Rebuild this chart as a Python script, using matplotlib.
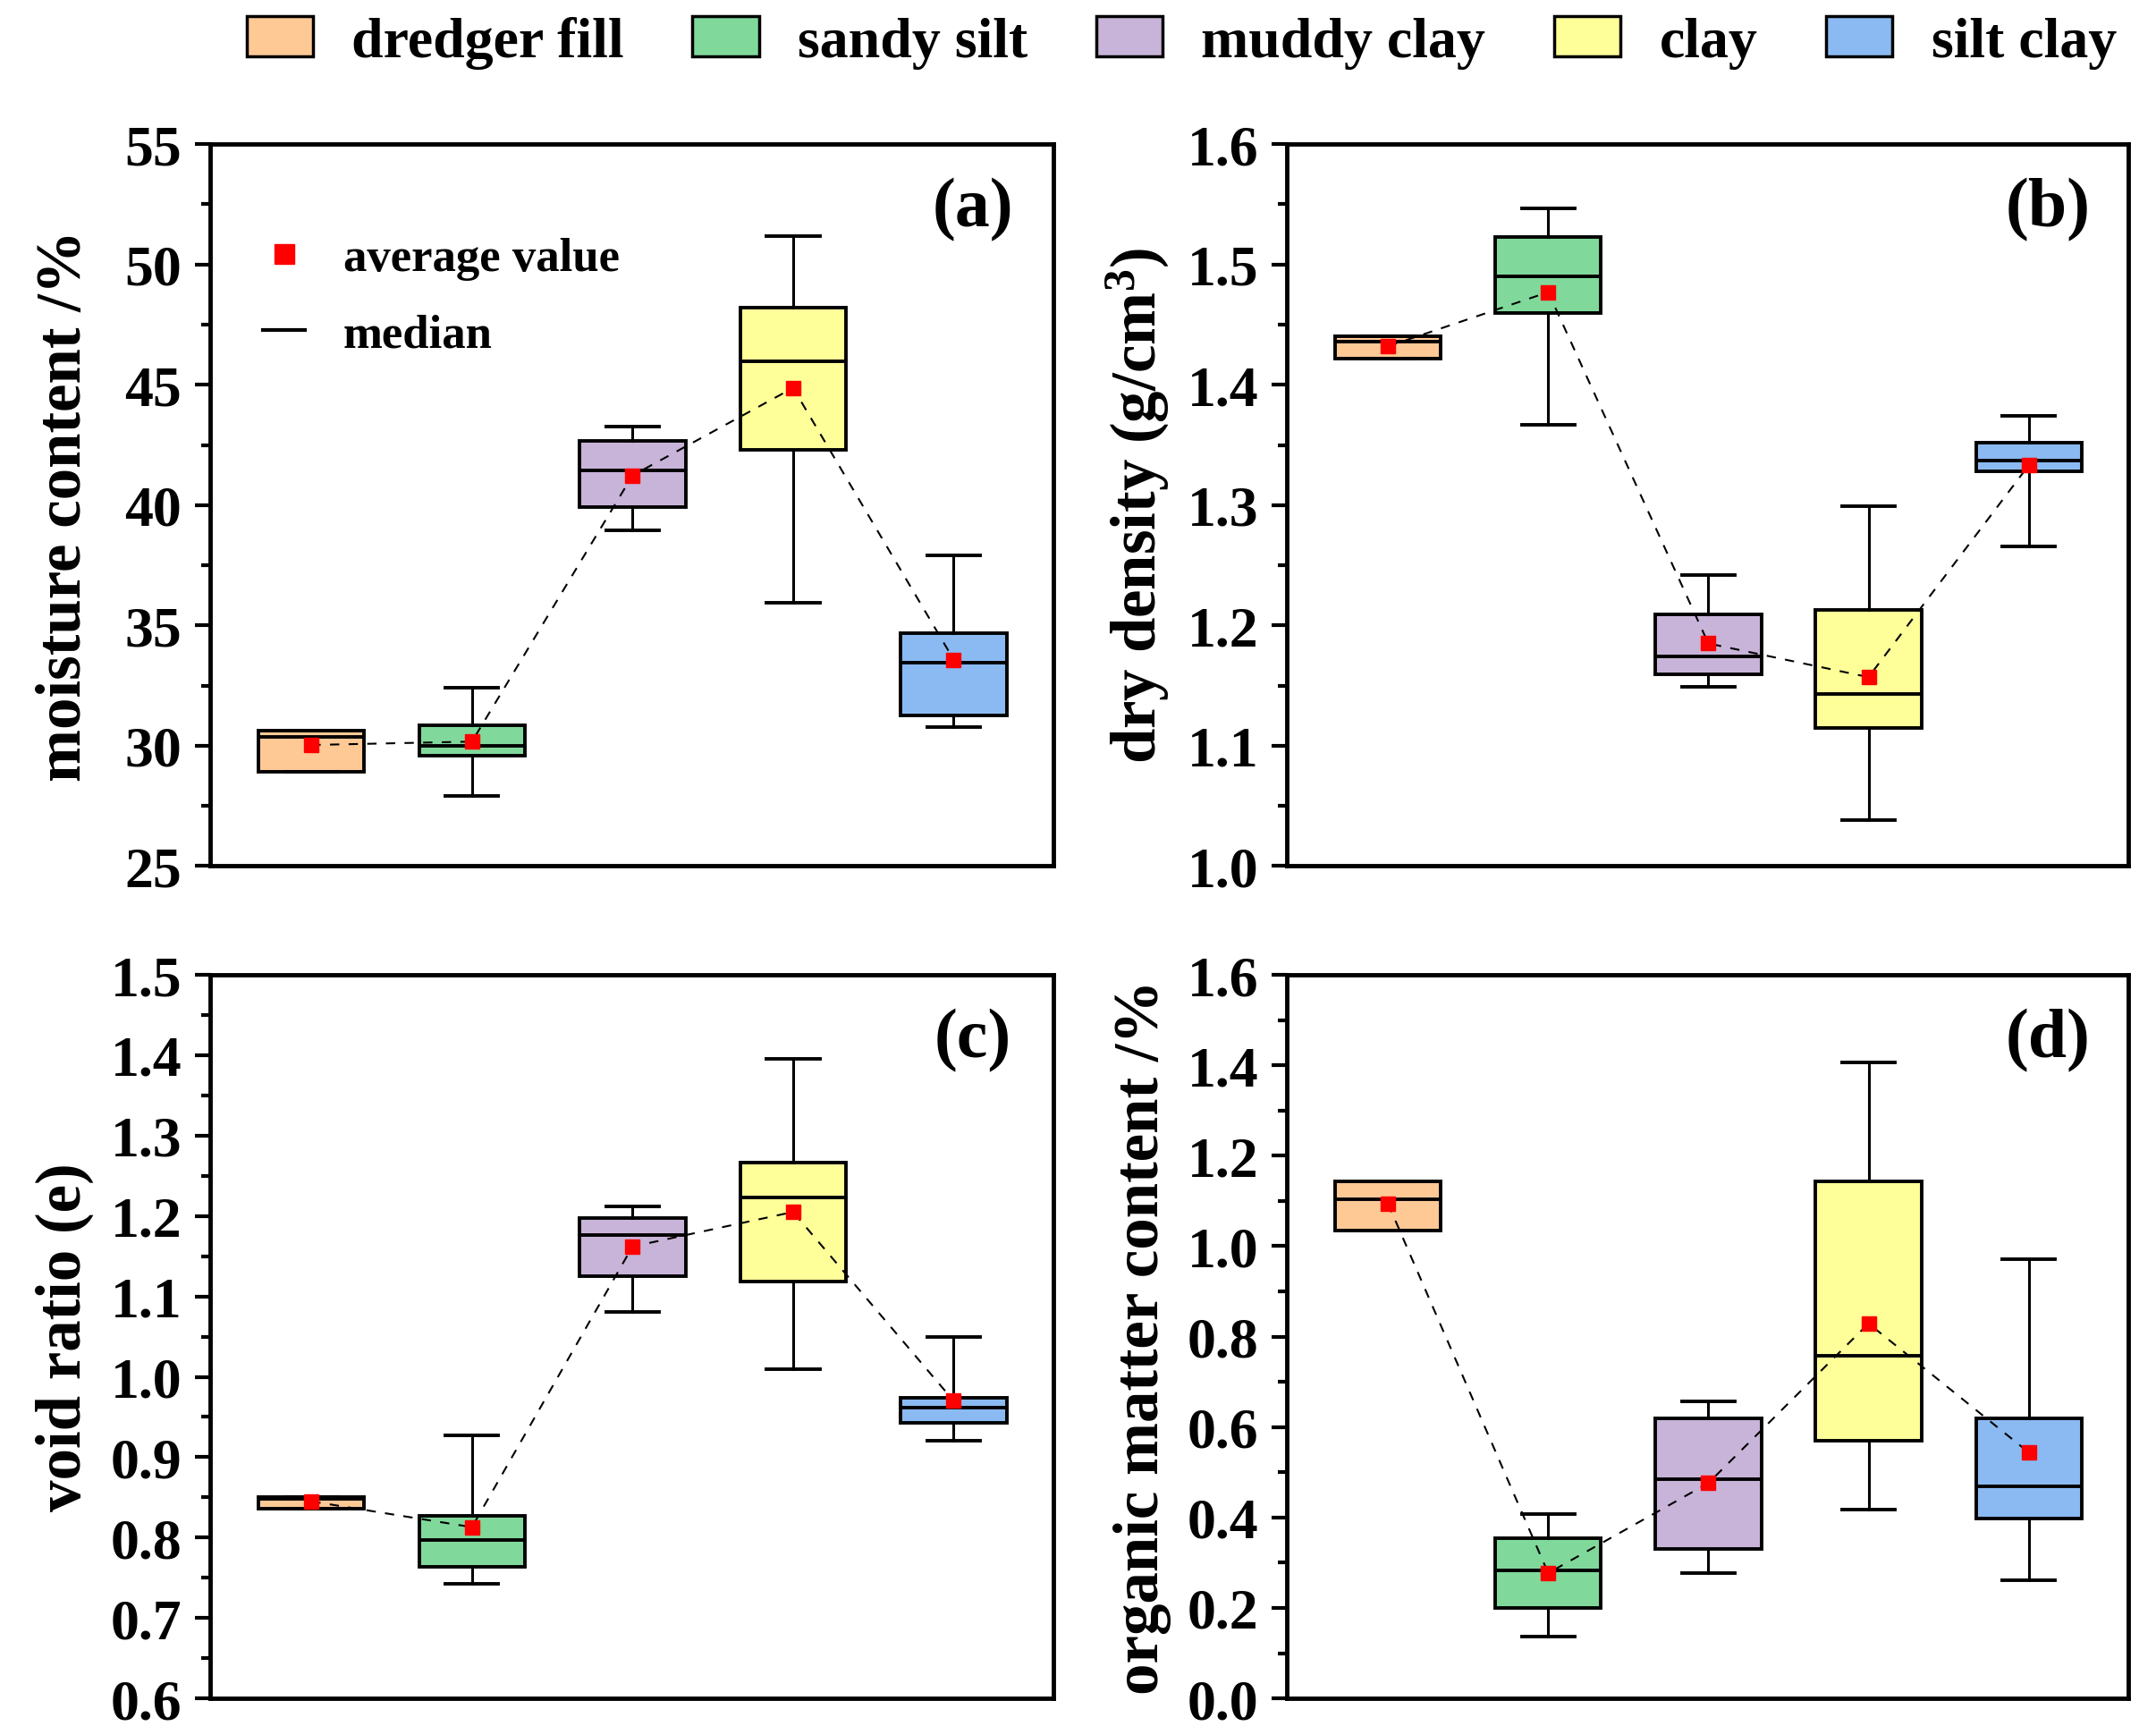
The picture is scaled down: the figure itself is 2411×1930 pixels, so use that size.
import numpy as np
import matplotlib
matplotlib.use('Agg')
import matplotlib.pyplot as plt
from matplotlib.patches import Patch
from matplotlib.lines import Line2D
from matplotlib.ticker import MultipleLocator, FormatStrFormatter

plt.rcParams['font.family'] = ['Liberation Serif', 'DejaVu Serif']
plt.rcParams['font.weight'] = 'bold'
plt.rcParams['mathtext.default'] = 'regular'

soils = ['dredger fill', 'sandy silt', 'muddy clay', 'clay', 'silt clay']
colors = ['#FFC996', '#80D99B', '#C8B4D8', '#FFFF99', '#8BBAF2']

# (a) moisture content /%
moist_q1 = [28.92, 29.59, 39.91, 42.31, 31.26]
moist_med = [30.38, 30.00, 41.46, 45.98, 33.44]
moist_q3 = [30.61, 30.84, 42.67, 48.20, 34.69]
moist_lo = [28.92, 27.93, 38.96, 35.93, 30.76]
moist_hi = [30.61, 32.41, 43.28, 51.17, 37.92]
moist_mean = [30.03, 30.17, 41.23, 44.87, 33.58]

# (b) dry density g/cm3
dens_q1 = [1.422, 1.460, 1.159, 1.115, 1.328]
dens_med = [1.436, 1.490, 1.174, 1.143, 1.337]
dens_q3 = [1.440, 1.523, 1.209, 1.213, 1.352]
dens_lo = [1.422, 1.367, 1.149, 1.038, 1.266]
dens_hi = [1.440, 1.547, 1.242, 1.299, 1.374]
dens_mean = [1.432, 1.477, 1.185, 1.157, 1.333]

# (c) void ratio
void_q1 = [0.836, 0.764, 1.125, 1.119, 0.943]
void_med = [0.848, 0.797, 1.176, 1.223, 0.962]
void_q3 = [0.850, 0.827, 1.197, 1.266, 0.974]
void_lo = [0.836, 0.742, 1.081, 1.010, 0.920]
void_hi = [0.850, 0.927, 1.212, 1.396, 1.050]
void_mean = [0.845, 0.813, 1.162, 1.205, 0.970]

# (d) organic matter content /%
org_q1 = [1.034, 0.200, 0.331, 0.570, 0.397]
org_med = [1.103, 0.283, 0.484, 0.757, 0.468]
org_q3 = [1.143, 0.355, 0.619, 1.143, 0.620]
org_lo = [1.034, 0.137, 0.277, 0.417, 0.262]
org_hi = [1.143, 0.408, 0.656, 1.406, 0.972]
org_mean = [1.094, 0.277, 0.476, 0.829, 0.544]

panels = [
    ('(a)', 'moisture content /%', (25, 55), 5, 2.5, '%d',
     moist_q1, moist_med, moist_q3, moist_lo, moist_hi, moist_mean),
    ('(b)', 'dry density (g/cm$^3$)', (1.0, 1.6), 0.1, 0.05, '%.1f',
     dens_q1, dens_med, dens_q3, dens_lo, dens_hi, dens_mean),
    ('(c)', 'void ratio (e)', (0.6, 1.5), 0.1, 0.05, '%.1f',
     void_q1, void_med, void_q3, void_lo, void_hi, void_mean),
    ('(d)', 'organic matter content /%', (0.0, 1.6), 0.2, 0.1, '%.1f',
     org_q1, org_med, org_q3, org_lo, org_hi, org_mean),
]

fig = plt.figure(figsize=(24.11, 19.31), dpi=100)
rects = [[0.0975, 0.498, 0.391, 0.418], [0.597, 0.498, 0.390, 0.418],
         [0.0975, 0.016, 0.391, 0.419], [0.597, 0.016, 0.390, 0.419]]
pos = np.arange(1, 6)

for rect, (tag, ylab, ylim, major, minor, fmt,
           q1, med, q3, lo, hi, mean) in zip(rects, panels):
    ax = fig.add_axes(rect)
    stats = []
    for i in range(5):
        stats.append(dict(q1=q1[i], med=med[i], q3=q3[i], whislo=lo[i],
                          whishi=hi[i], fliers=[], label=soils[i]))
    bp = ax.bxp(stats, positions=pos, widths=0.66, patch_artist=True,
                showfliers=False,
                boxprops=dict(linewidth=2.8, edgecolor='black'),
                medianprops=dict(linewidth=2.8, color='black'),
                whiskerprops=dict(linewidth=2.2, color='black'),
                capprops=dict(linewidth=2.8, color='black'))
    for patch, c in zip(bp['boxes'], colors):
        patch.set_facecolor(c)
    ax.plot(pos, mean, color='black', lw=1.5, ls=(0, (5, 5)), zorder=4)
    ax.plot(pos, mean, 's', color='red', ms=11, mec='red', zorder=5)

    ax.set_xlim(0.37, 5.62)
    ax.set_ylim(*ylim)
    ax.set_xticks([])
    ax.yaxis.set_major_locator(MultipleLocator(major))
    ax.yaxis.set_minor_locator(MultipleLocator(minor))
    ax.yaxis.set_major_formatter(FormatStrFormatter(fmt))
    ax.tick_params(axis='y', which='major', direction='out', length=12,
                   width=3, labelsize=46, pad=11)
    ax.tick_params(axis='y', which='minor', direction='out', length=7,
                   width=3)
    for sp in ax.spines.values():
        sp.set_linewidth(3.5)
    ax.set_ylabel(ylab, fontsize=51, fontweight='bold')
    ax.yaxis.set_label_coords(-0.138, 0.5)
    ax.text(0.905, 0.91, tag, transform=ax.transAxes, fontsize=56,
            fontweight='bold', ha='center', va='center')

    if tag == '(a)':
        h = [Line2D([], [], ls='none', marker='s', color='red', ms=16),
             Line2D([], [], color='black', lw=3)]
        ax.legend(h, ['average value', 'median'], loc='upper left',
                  bbox_to_anchor=(0.012, 0.93), frameon=False, fontsize=38,
                  handlelength=0.9, handletextpad=0.8, labelspacing=0.7)

handles = [Patch(facecolor=c, edgecolor='black', linewidth=2.5)
           for c in colors]
fig.legend(handles, soils, loc='center', bbox_to_anchor=(0.548, 0.975),
           ncol=5, frameon=False, fontsize=46, handlelength=1.16,
           handleheight=0.7, columnspacing=1.2, handletextpad=0.68)

fig.savefig('out.png', dpi=100)
